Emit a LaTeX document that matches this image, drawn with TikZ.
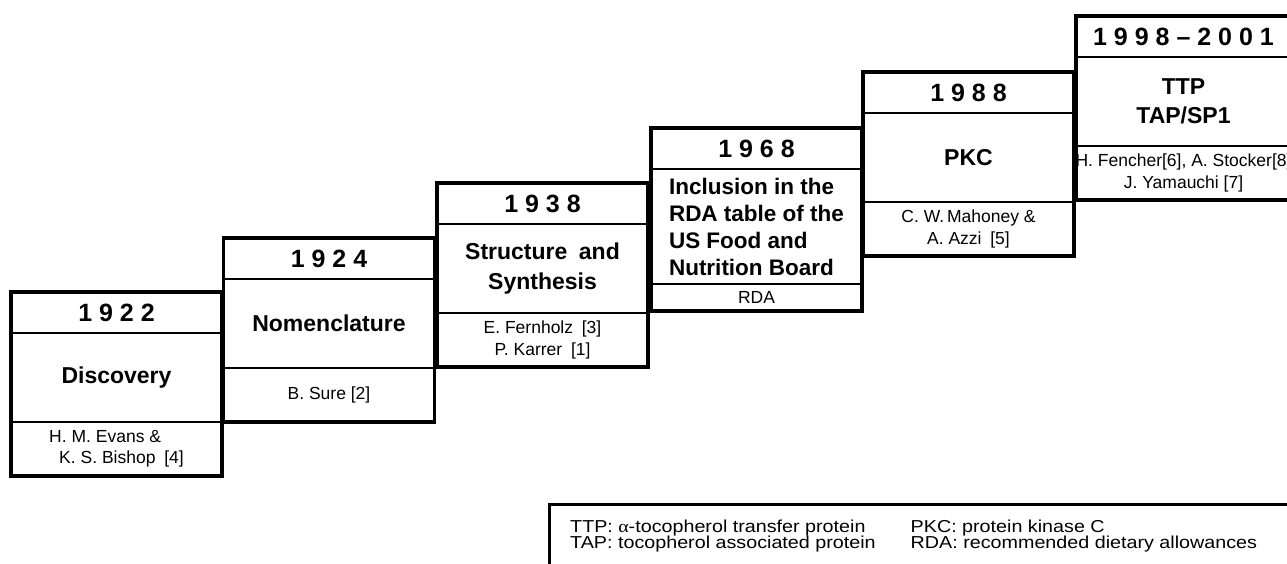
\documentclass[tikz,border=0pt]{standalone}
\usepackage{graphicx}
\usepackage{fontspec}
\setmainfont{Liberation Sans}
\newfontfamily\greekfont{Liberation Serif}
\usetikzlibrary{positioning}
\tikzset{
        cell/.style = {draw=black, line width=1.5pt, inner sep=0pt, outer sep=0pt,
            align=center, text centered, minimum width=211pt},
        yearbox/.style = {cell, minimum height=41pt,
            font=\bfseries\fontsize{25}{30}\selectfont},
        titlebox/.style = {cell, minimum height=89pt,
            font=\bfseries\fontsize{23}{30}\selectfont},
        authbox/.style = {cell, minimum height=54pt,
            font=\fontsize{17.5}{21.5}\selectfont},
        frame/.style = {draw=black, line width=3.5pt, line join=miter},
        legtext/.style = {anchor=base west, inner sep=0pt,
            font=\fontsize{17.3}{17}\selectfont}
    }
\newcommand{\legwide}[1]{\scalebox{1.14}[1]{#1}}
\begin{document}
\begin{tikzpicture}[x=1pt,y=-1pt]
    \useasboundingbox (0,0) rectangle (1287,563);
    % 1922
    \node [yearbox, anchor=north west] (y22) at (11,292) {1 9 2 2};
    \node [titlebox, below=0pt of y22] (t22) {Discovery};
    \node [authbox, below=0pt of t22, align=left] (a22)
        {H. M. Evans \&\\\hspace*{10pt}K. S. Bishop\enspace[4]};
    \draw [frame] (y22.north west) rectangle (a22.south east);
    % 1924
    \node [yearbox, anchor=north west] (y24) at (223.5,238) {1 9 2 4};
    \node [titlebox, below=0pt of y24] (t24) {Nomenclature};
    \node [authbox, below=0pt of t24] (a24) {B. Sure [2]};
    \draw [frame] (y24.north west) rectangle (a24.south east);
    % 1938
    \node [yearbox, anchor=north west] (y38) at (437,183) {1 9 3 8};
    \node [titlebox, below=0pt of y38] (t38) {Structure\enspace and\\Synthesis};
    \node [authbox, below=0pt of t38] (a38) {E. Fernholz\enspace[3]\\P. Karrer\enspace[1]};
    \draw [frame] (y38.north west) rectangle (a38.south east);
    % 1968
    \node [yearbox, anchor=north west] (y68) at (651,128) {1 9 6 8};
    \node [titlebox, below=0pt of y68, minimum height=115pt, align=left,
        font=\bfseries\fontsize{22.5}{27}\selectfont] (t68)
        {Inclusion in the\\RDA table of the\\US Food and\\Nutrition Board};
    \node [authbox, below=0pt of t68, minimum height=27pt] (a68) {RDA};
    \draw [frame] (y68.north west) rectangle (a68.south east);
    % 1988
    \node [yearbox, anchor=north west] (y88) at (863,72) {1 9 8 8};
    \node [titlebox, below=0pt of y88] (t88) {PKC};
    \node [authbox, below=0pt of t88] (a88) {C. W.\,Mahoney \&\\A. Azzi\enspace[5]};
    \draw [frame] (y88.north west) rectangle (a88.south east);
    % 1998-2001
    \node [yearbox, anchor=north west, minimum width=215pt] (y98) at (1076,16)
        {1 9 9 8 -- 2 0 0 1};
    \node [titlebox, below=0pt of y98, minimum width=215pt,
        font=\bfseries\fontsize{23}{29}\selectfont] (t98) {TTP\\TAP/SP1};
    \node [authbox, below=0pt of t98, minimum width=215pt] (a98)
        {H. Fencher[6], A. Stocker[8]\\J. Yamauchi [7]};
    \draw [frame] (y98.north west) rectangle (a98.south east);
    % abbreviations
    \node [draw=black, line width=3pt, anchor=north west, minimum width=800pt,
        minimum height=100pt] (legend) at (548,503) {};
    \node [legtext] (ttp) at (570,532.5) {\legwide{TTP: {\greekfont α}-tocopherol transfer protein}};
    \node [legtext] (tap) at (570,548.5) {\legwide{TAP: tocopherol associated protein}};
    \node [legtext] (pkc) at (910.5,532.5) {\legwide{PKC: protein kinase C}};
    \node [legtext] (rda) at (910.5,548.5) {\legwide{RDA: recommended dietary allowances}};
\end{tikzpicture}
\end{document}
